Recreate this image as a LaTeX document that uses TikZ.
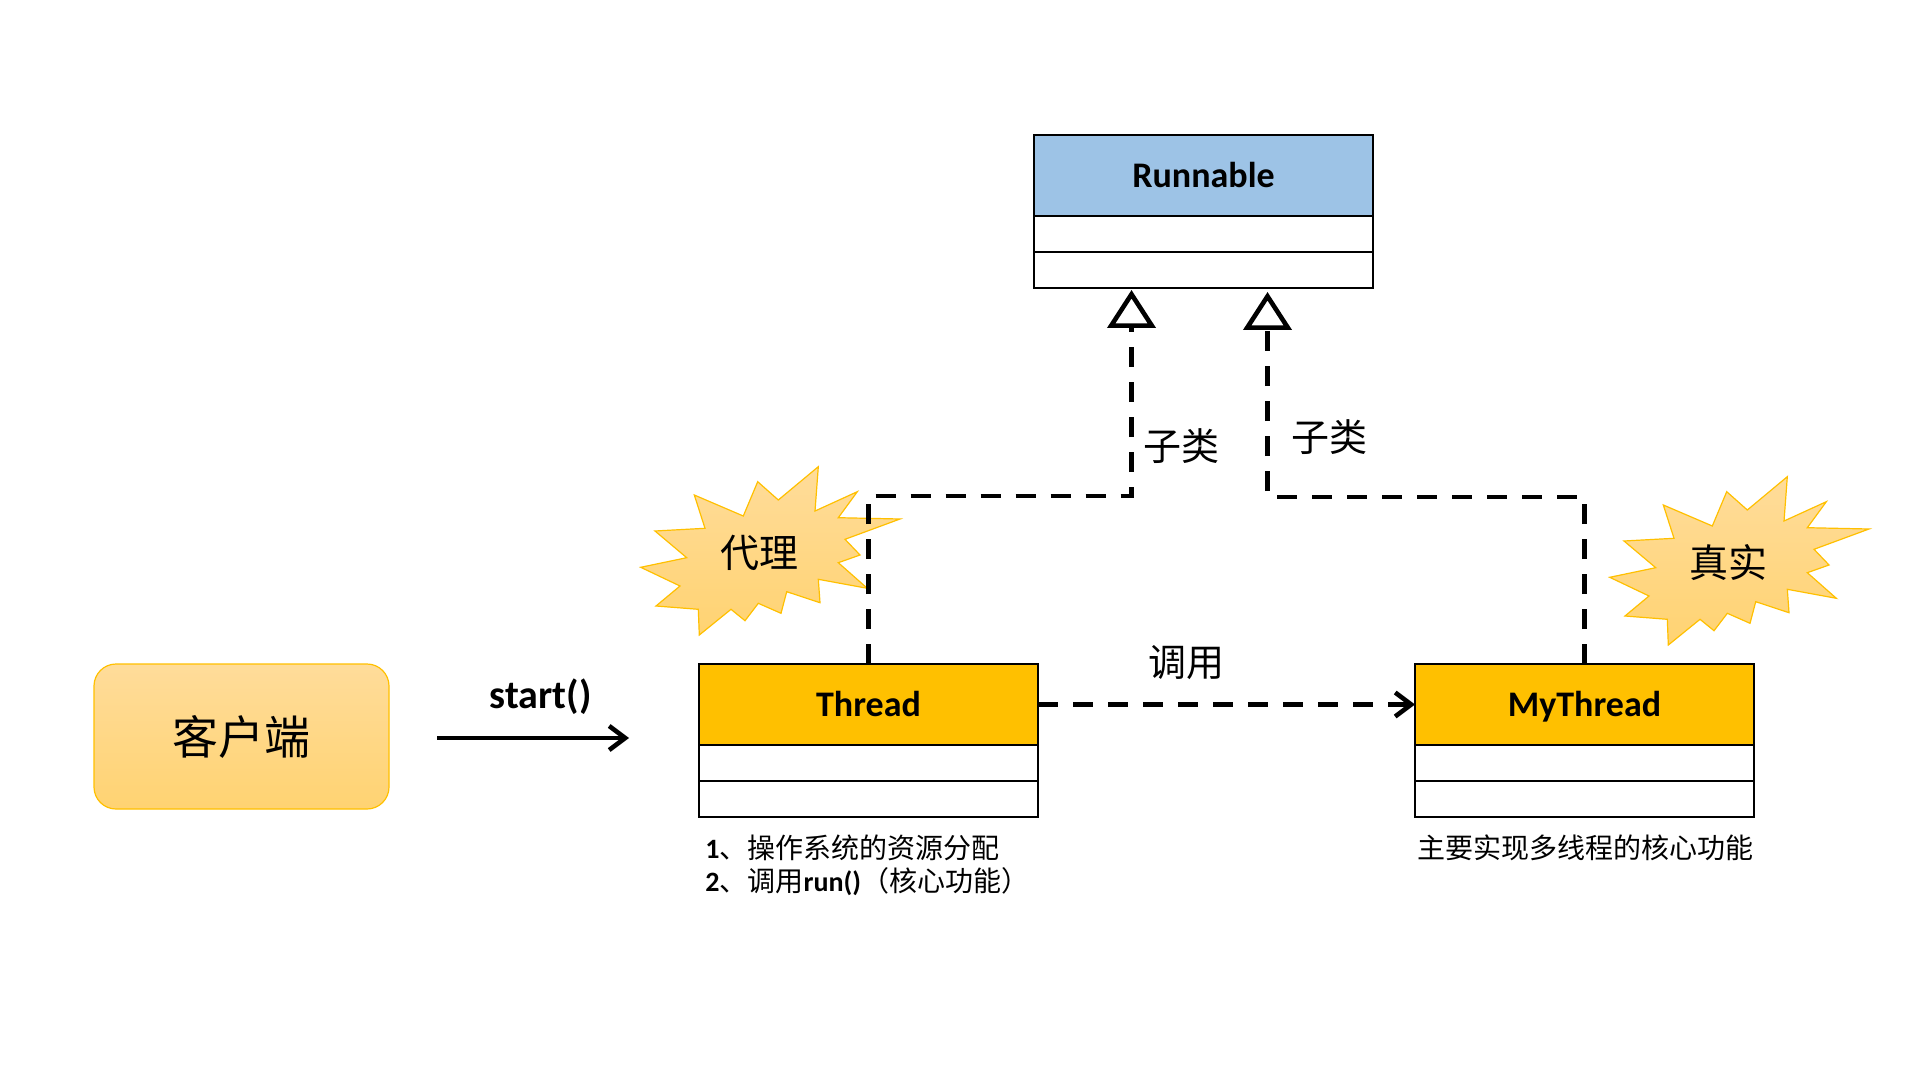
\documentclass[tikz,border=0pt]{standalone}
\usepackage{fontspec}
\setmainfont{Carlito}
\newfontfamily\cjk{Noto Sans CJK SC}
\usetikzlibrary{arrows.meta}
\definecolor{hdrblue}{HTML}{9DC3E6}
\definecolor{hdrgold}{HTML}{FFC000}
\definecolor{softA}{HTML}{FFDC9A}
\definecolor{softB}{HTML}{FFD372}
\tikzset{
  hdr/.style={draw=black, line width=1.1pt, outer sep=0pt, minimum width=169.5pt, minimum height=40.5pt, inner sep=0pt,
    text height=11.6pt, text depth=0pt, font=\bfseries\fontsize{18}{20}\selectfont},
  comp/.style={draw=black, line width=1.1pt, outer sep=0pt, fill=white, minimum width=169.5pt, minimum height=18pt, inner sep=0pt},
  conn/.style={line width=2pt},
  dashconn/.style={line width=2.1pt, dash pattern=on 10pt off 7.5pt},
  barb/.style={-{Straight Barb[length=8pt,width=12pt,line width=2.3pt]}},
  inherit/.style={-{Triangle[open,fill=white,length=19pt,width=24pt,line width=2.3pt]}},
  cjklbl/.style={font=\cjk\fontsize{19}{22}\selectfont, inner sep=0pt},
  desc/.style={font=\cjk\fontsize{14}{17}\selectfont, inner sep=0pt, anchor=west},
  burst/.pic={
    \path[draw=hdrgold, line width=0.6pt, top color=softA, bottom color=softB]
      (818.3,466.7) -- (815,511) -- (857.3,491.7) -- (838.3,517.7) -- (900,519) -- (845,539.3)
      -- (860,555) -- (838.3,562.7) -- (867.3,588.3) -- (818.3,579.3) -- (820,602.7) -- (786.7,591.7)
      -- (781,613.3) -- (758.3,603.3) -- (745,620.7) -- (731,609.3) -- (699.3,635) -- (698.3,609.3)
      -- (656,606) -- (680,586) -- (640.7,567.3) -- (686.7,557.7) -- (655,531) -- (705,528.3)
      -- (694.3,495) -- (743.3,516) -- (757.7,481.7) -- (778.3,500) -- cycle;
  }
}
\begin{document}
\begin{tikzpicture}[x=0.5pt,y=-0.5pt]
\useasboundingbox[fill=white] (0,0) rectangle (1920,1080);

% bursts
\pic (burstL) at (0,0) {burst};
\pic (burstR) at (969,10) {burst};
\node[cjklbl, font=\cjk\fontsize{19.5}{22}\selectfont] (proxy) at (759,553) {代理};
\node[cjklbl, font=\cjk\fontsize{19.5}{22}\selectfont] (real) at (1728,563) {真实};

% client
\node[draw=hdrgold, line width=0.6pt, top color=softA, bottom color=softB, rounded corners=11pt,
      minimum width=147.5pt, minimum height=72.5pt, inner sep=0pt,
      font=\cjk\fontsize{23}{26}\selectfont] (client) at (241.5,736.5) {客户端};

% Runnable
\node[hdr, fill=hdrblue] (runnable) at (1203.5,175.5) {Runnable};
\node[comp, anchor=north] (runnableA) at (runnable.south) {};
\node[comp, anchor=north] (runnableB) at (runnableA.south) {};

% Thread
\node[hdr, fill=hdrgold] (thread) at (868.5,704.5) {Thread};
\node[comp, anchor=north] (threadA) at (thread.south) {};
\node[comp, anchor=north] (threadB) at (threadA.south) {};

% MyThread
\node[hdr, fill=hdrgold] (mythread) at (1584.5,704.5) {MyThread};
\node[comp, anchor=north] (mythreadA) at (mythread.south) {};
\node[comp, anchor=north] (mythreadB) at (mythreadA.south) {};

% descriptions
\node[desc] (desc1) at (705,848) {{\rmfamily\bfseries 1}、操作系统的资源分配};
\node[desc] (desc2) at (705,882) {{\rmfamily\bfseries 2}、调用{\rmfamily\bfseries run()}（核心功能）};
\node[desc] (desc3) at (1417,848) {主要实现多线程的核心功能};

% inheritance connectors
\coordinate (tipA) at (1131.5,290);
\coordinate (tipB) at (1267.5,292);
\draw[dashconn, inherit] (thread.north) -- ++(0,-168) -| (tipA);
\draw[dashconn, inherit] (mythread.north) -- ++(0,-167) -| (tipB);
\node[cjklbl] (subA) at (1181,446) {子类};
\node[cjklbl] (subB) at (1329,437) {子类};

% call connector
\draw[dashconn, barb] (thread.east) -- node[pos=0.395, yshift=20.75pt, cjklbl] (call) {调用} (mythread.west);

% start arrow
\coordinate (s0) at (437,738);
\coordinate (s1) at (629,738);
\draw[conn, barb] (s0) -- node[pos=0.54, yshift=20.5pt, inner sep=0pt, font=\bfseries\fontsize{20}{22}\selectfont] (startlbl) {start()} (s1);
\end{tikzpicture}
\end{document}
